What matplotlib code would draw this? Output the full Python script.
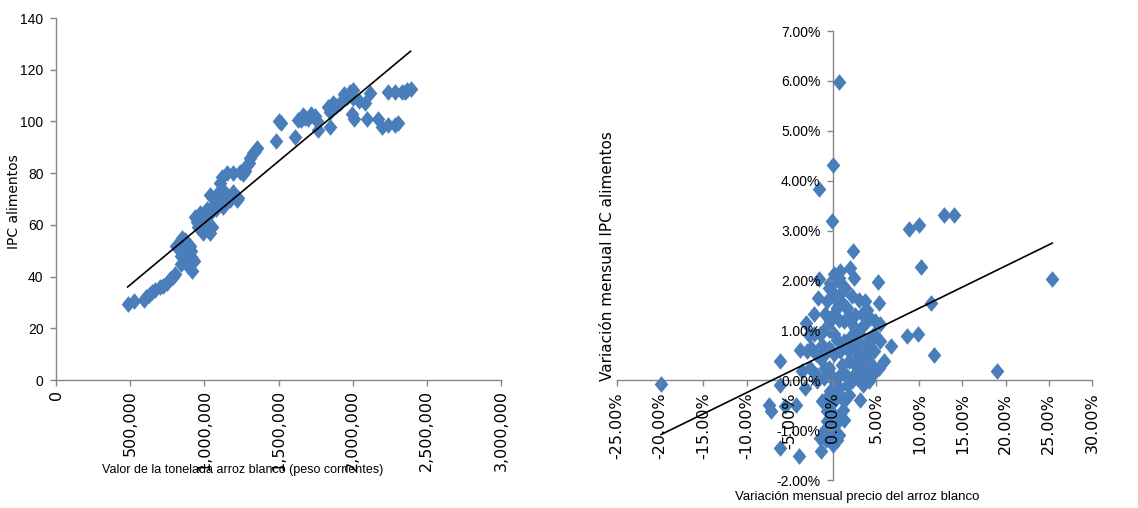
import matplotlib
matplotlib.use("Agg")
import matplotlib.pyplot as plt
import numpy as np

# ---------------- Left chart data: price of white rice ton vs food CPI ----------------
precio_tonelada = [
    483e3, 525e3, 590e3, 610e3, 630e3, 650e3, 670e3, 700e3, 720e3, 750e3, 770e3, 790e3, 800e3,
    810e3, 830e3, 850e3, 870e3, 840e3, 860e3, 880e3, 900e3, 920e3, 930e3, 910e3, 880e3, 860e3,
    840e3, 920e3, 890e3, 850e3, 905e3,
    937e3, 970e3, 1016e3, 960e3, 990e3, 1040e3, 1050e3, 1000e3, 985e3, 1020e3, 950e3, 1030e3,
    1038e3, 1083e3, 1105e3, 1117e3, 1150e3, 1094e3, 1128e3, 1173e3, 1195e3, 1218e3, 1060e3, 1100e3,
    1140e3, 1120e3, 1080e3, 1160e3, 1070e3, 1230e3,
    1195e3, 1240e3, 1274e3, 1285e3, 1308e3, 1330e3, 1353e3, 1260e3, 1300e3, 1340e3,
    1483e3, 1517e3, 1500e3, 1611e3,
    1634e3, 1667e3, 1700e3, 1720e3, 1744e3, 1766e3, 1757e3, 1680e3, 1650e3,
    1836e3, 1847e3, 1870e3, 1915e3, 1960e3, 1982e3, 2000e3, 1993e3, 2010e3, 2040e3, 2083e3,
    2094e3, 2120e3, 1850e3, 1890e3, 1940e3, 2005e3,
    2173e3, 2196e3, 2240e3, 2286e3, 2308e3,
    2240e3, 2286e3, 2330e3, 2364e3, 2390e3, 2350e3,
]
ipc_alimentos = [
    29.5, 30.5, 31.0, 32.0, 33.0, 34.0, 35.0, 36.0, 36.5, 37.5, 39.0, 40.0, 41.0,
    52.0, 53.0, 55.0, 54.0, 48.0, 46.0, 47.0, 48.0, 47.0, 46.0, 50.0, 50.0, 50.0,
    45.0, 42.0, 44.0, 48.0, 52.0,
    63.0, 64.5, 66.0, 59.0, 56.7, 56.7, 59.0, 61.0, 62.0, 60.0, 61.0, 64.0,
    71.5, 72.0, 76.0, 78.6, 80.0, 68.0, 67.0, 69.6, 72.8, 69.6, 66.0, 70.0,
    70.0, 74.0, 66.0, 71.0, 68.0, 70.5,
    80.0, 80.6, 81.0, 83.0, 86.0, 87.7, 89.6, 79.5, 84.0, 88.5,
    92.6, 99.5, 100.3, 93.8,
    100.5, 102.5, 101.0, 103.0, 102.0, 96.7, 100.0, 101.5, 100.5,
    105.7, 98.0, 107.0, 107.0, 109.6, 111.5, 112.0, 103.0, 101.0, 108.0, 107.0,
    101.0, 111.0, 103.5, 106.0, 110.5, 109.0,
    101.0, 98.0, 98.6, 98.6, 99.3,
    111.5, 111.5, 111.5, 112.0, 112.4, 111.5,
]
tendencia_izq = (4.78e-5, 12.9)  # slope, intercept

# ---------------- Right chart data: monthly variations (%) ----------------
var_precio_arroz = [
    -19.9, 0.68, 0.0, -1.64, -0.1, 2.34, 8.86, 9.94, 12.84, 14.0, 10.2, 11.3, 11.7, 8.6, 9.86,
    6.78, 19.0, 25.4, 5.23, 5.3, 5.4, 5.9, 5.3, -6.15, -6.1, -7.4, -7.2, -5.5, -4.3, -6.1, -3.9,
    -3.2, -3.6, -1.37, -1.45, -1.06, -0.1, 0.68, 1.33, 3.1, 4.15, -1.7, -1.64, -3.07, -3.76, -3.0,
    -2.2, -0.87, 0.68, 0.87, 2.03, 2.4, 2.2, 3.76, 3.4, 4.3, 3.0, 3.96, 4.7, 0.1, 0.5, 1.25, 1.64,
    0.1, 0.87, 1.83, 2.4, 3.4, 4.34, -0.48, -1.45, -1.06, -0.29, 0.1, 0.68, 1.64, 2.2, -0.68, -0.68,
    -1.25, 1.25, 1.83, 3.2, 3.76, 4.7, -2.2, -2.0, -2.6, -0.48, 0.1, 1.25, 2.0, 2.8, 2.6, 1.83,
    0.87, 1.45, 0.1, -0.48, -0.68, -0.29, -1.45, -0.87, -1.83, 0.1, 0.87, 0.5, -0.48, 2.8, 3.6,
    4.3, 5.5, 4.9, 3.96,
    -1.0, -0.5, 0.0, 0.5, 1.0, 1.5, 0.3, -0.3, 0.2, -0.8, 0.5, 1.0, 0.3, -0.3, 1.3, 2.6, 3.0,
    4.0, 2.2, 2.5, 3.5, 4.0, 1.2, 0.8, -0.2, -1.0, -1.3, -2.5, -2.8, -1.9, -0.9, 0.5, 0.0, 1.7,
    2.9, 3.3, 4.5, 4.8, 0.7, 1.9,
]
var_ipc_alimentos = [
    -0.07, 5.97, 4.31, 3.84, 3.2, 2.6, 3.03, 3.12, 3.32, 3.32, 2.26, 1.55, 0.5, 0.88, 0.92,
    0.68, 0.18, 2.02, 1.96, 1.55, 1.13, 0.38, 0.25, 0.38, -0.09, -0.49, -0.62, -0.52, -0.49, -1.36,
    -1.52, -0.15, 0.18, -1.42, -1.16, -1.02, -1.02, -1.09, -0.79, -0.39, -0.02, 1.65, 2.02, 1.15,
    0.61, 0.58, 1.32, 1.32, 2.05, 2.18, 2.25, 2.05, 1.68, 1.58, 1.32, 1.25, 0.92, 0.78, 0.58, 1.72,
    1.45, 1.18, 1.45, 0.92, 0.58, 0.38, 0.11, 0.38, 0.25, 0.25, 0.45, 0.05, -0.22, -0.42, -0.15,
    -0.09, -0.02, -0.62, -0.82, -0.42, -0.42, -0.29, 0.25, 0.58, 0.92, 0.92, 0.52, 0.25, 0.65,
    0.52, 0.78, 0.65, 0.52, 1.05, 1.25, 1.72, 1.85, 2.12, 1.85, 1.58, 1.18, 0.92, 0.25, -0.02,
    -0.02, 0.11, -0.75, -1.09, 0.05, 0.11, 0.78, 0.78, 1.18, 1.18,
    0.5, 1.0, 1.3, 0.8, 0.3, 0.1, -0.3, -0.6, -0.9, -1.2, 1.6, 1.9, 2.0, 1.95, 1.5, 1.3, 1.6,
    1.4, 0.9, 0.3, -0.1, 0.5, -0.6, -0.3, 0.1, 1.0, 0.7, 0.65, 0.9, 0.1, -0.4, -1.2, -1.3, 0.6,
    0.75, 1.05, 0.3, 0.15, 1.2, 1.2,
]
tendencia_der = (0.0847, 0.597)  # slope, intercept (percent units)

x_ticks_izq = [0, 500000, 1000000, 1500000, 2000000, 2500000, 3000000]
y_ticks_izq = [0, 20, 40, 60, 80, 100, 120, 140]
x_ticks_der = [-25, -20, -15, -10, -5, 0, 5, 10, 15, 20, 25, 30]
y_ticks_der = [-2, -1, 0, 1, 2, 3, 4, 5, 6, 7]

# ---------------- Styling ----------------
BLUE = "#4A7EBB"
GRAY = "#868686"
WIDE = ["DejaVu Sans"]
NARROW = ["Liberation Sans", "DejaVu Sans"]
diamond = [(0, 1), (0.82, 0), (0, -1), (-0.82, 0), (0, 1)]

fig = plt.figure(figsize=(11.38, 5.08), dpi=100)
ax1 = fig.add_axes([56 / 1138, 1 - 380 / 508, 445 / 1138, 362 / 508])
ax2 = fig.add_axes([617 / 1138, 1 - 480 / 508, 475 / 1138, 449 / 508])

for ax in (ax1, ax2):
    ax.spines["top"].set_visible(False)
    ax.spines["right"].set_visible(False)
    for s in ("left", "bottom"):
        ax.spines[s].set_color(GRAY)
        ax.spines[s].set_linewidth(1.0)
    ax.tick_params(axis="both", which="major", direction="out", length=4, width=1,
                   color=GRAY, labelcolor="black")

# Left chart
ax1.plot(precio_tonelada, ipc_alimentos, linestyle="none", marker=diamond,
         markersize=12, color=BLUE, markeredgewidth=0, zorder=3)
xs = np.array([min(precio_tonelada), max(precio_tonelada)])
ax1.plot(xs, tendencia_izq[0] * xs + tendencia_izq[1], color="black", lw=1.2, zorder=4)
ax1.set_xlim(0, 3000000)
ax1.set_ylim(0, 140)
ax1.set_xticks(x_ticks_izq)
ax1.set_yticks(y_ticks_izq)
ax1.set_xticklabels([f"{v:,}" for v in x_ticks_izq], rotation=90, family=WIDE, fontsize=11.5)
ax1.set_yticklabels([str(v) for v in y_ticks_izq], family=NARROW, fontsize=10)
ax1.tick_params(axis="x", pad=3)
ax1.tick_params(axis="y", pad=5)
ax1.set_ylabel("IPC alimentos", family=WIDE, fontsize=10)
ax1.yaxis.label.set_va("center")
ax1.yaxis.set_label_coords(-0.094, 0.494)
ax1.set_xlabel("Valor de la tonelada arroz blanco (peso corrientes)", family=NARROW, fontsize=9)
ax1.xaxis.set_label_coords(0.42, -0.249)
ax1.xaxis.label.set_va("center")

# Right chart
ax2.plot(var_precio_arroz, var_ipc_alimentos, linestyle="none", marker=diamond,
         markersize=12, color=BLUE, markeredgewidth=0, zorder=3)
xs2 = np.array([min(var_precio_arroz), max(var_precio_arroz)])
ax2.plot(xs2, tendencia_der[0] * xs2 + tendencia_der[1], color="black", lw=1.2, zorder=4)
ax2.set_xlim(-25, 30)
ax2.set_ylim(-2, 7)
ax2.spines["left"].set_position(("data", 0))
ax2.spines["bottom"].set_position(("data", 0))
ax2.spines["left"].set_zorder(1)
ax2.spines["bottom"].set_zorder(1)
ax2.set_xticks(x_ticks_der)
ax2.set_yticks(y_ticks_der)
ax2.set_xticklabels([f"{v:.2f}%" for v in x_ticks_der], rotation=90, family=WIDE, fontsize=11.5)
ax2.set_yticklabels([f"{v:.2f}%" for v in y_ticks_der], family=NARROW, fontsize=10)
ax2.tick_params(axis="x", pad=5)
ax2.tick_params(axis="y", pad=5)
ax2.xaxis.set_zorder(5)
ax2.yaxis.set_zorder(5)
ax2.set_ylabel("Variación mensual IPC alimentos", family=WIDE, fontsize=11)
ax2.yaxis.label.set_va("center")
ax2.yaxis.set_label_coords(-0.021, 0.499)
ax2.set_xlabel("Variación mensual precio del arroz blanco", family=NARROW, fontsize=9.5)
ax2.xaxis.set_label_coords(0.505, -0.038)
ax2.xaxis.label.set_va("center")

fig.savefig("out.png", dpi=100)
